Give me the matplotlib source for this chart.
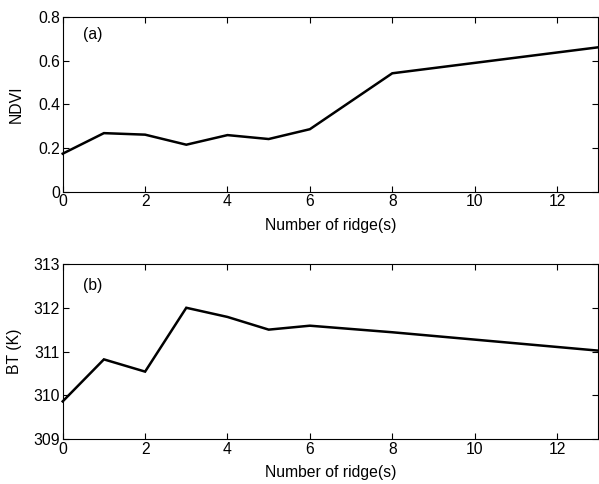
import matplotlib
matplotlib.use("Agg")
import matplotlib.pyplot as plt

plt.rcParams['font.family'] = ['Liberation Sans', 'DejaVu Sans']
FS = 11.3

ridges = [0, 1, 2, 3, 4, 5, 6, 8, 13]
ndvi = [0.174, 0.268, 0.261, 0.215, 0.259, 0.241, 0.286, 0.542, 0.661]
bt = [309.86, 310.82, 310.54, 312.0, 311.79, 311.50, 311.59, 311.44, 311.02]
xticks = [0, 2, 4, 6, 8, 10, 12]
ndvi_ticks = [0, 0.2, 0.4, 0.6, 0.8]
ndvi_labels = ['0', '0.2', '0.4', '0.6', '0.8']
bt_ticks = [309, 310, 311, 312, 313]

fig = plt.figure(figsize=(5.99, 4.84), dpi=100)
ax1 = fig.add_axes([0.1047, 0.604, 0.894, 0.361])
ax2 = fig.add_axes([0.1047, 0.093, 0.894, 0.3615])

for ax in (ax1, ax2):
    ax.tick_params(direction='in', top=True, right=True, length=4, width=0.8, labelsize=FS, pad=2)
    ax.set_xlim(0, 13)
    ax.set_xticks(xticks)
    for s in ax.spines.values():
        s.set_linewidth(0.8)
    ax.set_xlabel('Number of ridge(s)', fontsize=FS, labelpad=6)

ax1.plot(ridges, ndvi, color='black', lw=1.8, clip_on=False, solid_joinstyle='miter')
ax1.set_ylim(0, 0.8)
ax1.set_yticks(ndvi_ticks)
ax1.set_yticklabels(ndvi_labels)
ax1.set_ylabel('NDVI', fontsize=FS, labelpad=10)
ax1.text(0.49, 0.72, '(a)', fontsize=FS, va='center')

ax2.plot(ridges, bt, color='black', lw=1.8, clip_on=False, solid_joinstyle='miter')
ax2.set_ylim(309, 313)
ax2.set_yticks(bt_ticks)
ax2.set_ylabel('BT (K)', fontsize=FS, labelpad=8.5)
ax2.text(0.49, 312.52, '(b)', fontsize=FS, va='center')

fig.savefig('out.png', dpi=100)
